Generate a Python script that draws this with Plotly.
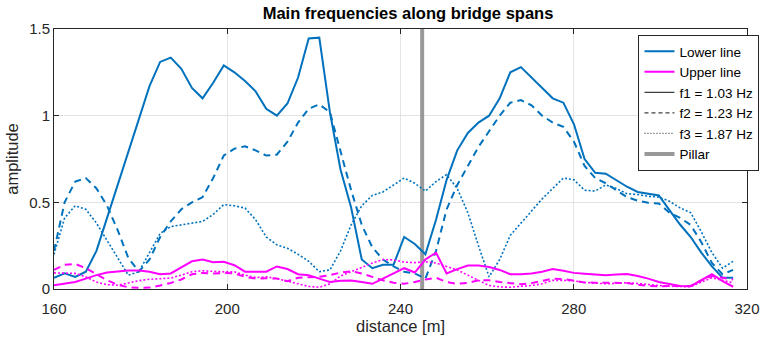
import plotly.graph_objects as go

# Measurement positions along the bridge [m]
distance = [160, 162.45, 164.9, 167.35, 169.8, 172.25, 174.7, 177.15, 179.6, 182.05,
            184.5, 186.95, 189.4, 191.85, 194.3, 196.75, 199.2, 201.65, 204.1, 206.55,
            209, 211.45, 213.9, 216.35, 218.8, 221.25, 223.7, 226.15, 228.6, 231.05,
            233.5, 235.95, 238.4, 240.85, 243.3, 245.75, 248.2, 250.65, 253.1, 255.55,
            258, 260.45, 262.9, 265.35, 267.8, 270.25, 272.7, 275.15, 277.6, 280.05,
            282.5, 284.95, 287.4, 289.85, 292.3, 294.75, 297.2, 299.65, 302.1, 304.55,
            307, 309.45, 311.9, 314.35, 316.8]

# Lower line amplitudes
lower_f1 = [0.065, 0.09, 0.07, 0.10, 0.22, 0.41, 0.60, 0.79, 0.97, 1.17,
            1.31, 1.335, 1.27, 1.16, 1.10, 1.19, 1.29, 1.25, 1.20, 1.14,
            1.04, 1.00, 1.07, 1.22, 1.445, 1.45, 1.02, 0.69, 0.47, 0.17,
            0.12, 0.14, 0.14, 0.30, 0.26, 0.20, 0.40, 0.63, 0.80, 0.90,
            0.96, 1.00, 1.10, 1.25, 1.28, 1.22, 1.16, 1.10, 1.075, 0.95,
            0.75, 0.67, 0.665, 0.63, 0.59, 0.56, 0.548, 0.54, 0.455, 0.372,
            0.30, 0.21, 0.13, 0.065, 0.065]
lower_f2 = [0.22, 0.50, 0.62, 0.64, 0.58, 0.48, 0.34, 0.18, 0.10, 0.17,
            0.30, 0.39, 0.46, 0.50, 0.53, 0.64, 0.77, 0.81, 0.823, 0.80,
            0.77, 0.775, 0.85, 0.96, 1.04, 1.065, 1.02, 0.80, 0.57, 0.37,
            0.24, 0.17, 0.13, 0.10, 0.09, 0.06, 0.22, 0.46, 0.60, 0.71,
            0.82, 0.91, 1.00, 1.075, 1.09, 1.06, 1.00, 0.96, 0.935, 0.85,
            0.71, 0.64, 0.61, 0.57, 0.53, 0.51, 0.497, 0.493, 0.44, 0.41,
            0.37, 0.27, 0.15, 0.085, 0.11]
lower_f3 = [0.20, 0.41, 0.48, 0.46, 0.38, 0.28, 0.18, 0.08, 0.10, 0.21,
            0.32, 0.36, 0.37, 0.38, 0.39, 0.43, 0.487, 0.48, 0.467, 0.40,
            0.30, 0.255, 0.235, 0.20, 0.16, 0.10, 0.11, 0.22, 0.37, 0.48,
            0.54, 0.56, 0.60, 0.64, 0.61, 0.565, 0.62, 0.66, 0.58, 0.44,
            0.25, 0.07, 0.17, 0.31, 0.38, 0.45, 0.52, 0.58, 0.64, 0.63,
            0.57, 0.565, 0.60, 0.58, 0.55, 0.545, 0.535, 0.53, 0.506, 0.468,
            0.44, 0.33, 0.21, 0.12, 0.16]

# Upper line amplitudes
upper_f1 = [0.022, 0.03, 0.04, 0.06, 0.08, 0.095, 0.10, 0.107, 0.107, 0.10,
            0.085, 0.09, 0.125, 0.16, 0.17, 0.155, 0.157, 0.137, 0.10, 0.10,
            0.10, 0.13, 0.115, 0.085, 0.08, 0.06, 0.04, 0.047, 0.049, 0.04,
            0.03, 0.06, 0.09, 0.12, 0.095, 0.17, 0.21, 0.09, 0.115, 0.135,
            0.135, 0.127, 0.11, 0.085, 0.085, 0.09, 0.10, 0.115, 0.105, 0.093,
            0.088, 0.084, 0.08, 0.083, 0.086, 0.075, 0.06, 0.04, 0.028, 0.018,
            0.016, 0.05, 0.085, 0.045, 0.013]
upper_f2 = [0.11, 0.14, 0.145, 0.12, 0.085, 0.05, 0.025, 0.01, 0.007, 0.008,
            0.02, 0.035, 0.055, 0.085, 0.093, 0.09, 0.092, 0.09, 0.07, 0.06,
            0.062, 0.06, 0.045, 0.065, 0.068, 0.07, 0.08, 0.095, 0.102, 0.09,
            0.07, 0.05, 0.036, 0.03, 0.04, 0.055, 0.065, 0.04, 0.03, 0.035,
            0.05, 0.05, 0.04, 0.033, 0.028, 0.034, 0.045, 0.06, 0.058, 0.05,
            0.038, 0.036, 0.036, 0.036, 0.035, 0.025, 0.018, 0.016, 0.016, 0.016,
            0.018, 0.05, 0.075, 0.065, 0.055]
upper_f3 = [0.093, 0.093, 0.09, 0.07, 0.04, 0.025, 0.022, 0.035, 0.048, 0.056,
            0.06, 0.063, 0.08, 0.10, 0.105, 0.10, 0.099, 0.099, 0.08, 0.066,
            0.07, 0.06, 0.045, 0.03, 0.015, 0.01, 0.03, 0.075, 0.10, 0.125,
            0.15, 0.17, 0.168, 0.155, 0.152, 0.157, 0.15, 0.13, 0.11, 0.08,
            0.05, 0.02, 0.012, 0.01, 0.016, 0.02, 0.03, 0.05, 0.05, 0.047,
            0.038, 0.033, 0.03, 0.033, 0.036, 0.032, 0.025, 0.02, 0.016, 0.013,
            0.013, 0.04, 0.065, 0.05, 0.036]

pillar_pos = 245
x_ticks = [160, 200, 240, 280, 320]
y_ticks = [0, 0.5, 1, 1.5]
y_labels = ["0", "0.5", "1", "1.5"]

BLUE = "#0072BD"
MAGENTA = "#FF00FF"
GRAY = "#999999"
DARK = "#262626"
FONT = "Liberation Sans, Arial, sans-serif"

styles = [("solid", 2.0), ("7px,5px", 2.0), ("2px,2px", 1.6)]

fig = go.Figure()

# Pillar marker
fig.add_trace(go.Scatter(x=[pillar_pos, pillar_pos], y=[0, 1.5], mode="lines",
                         line=dict(color=GRAY, width=4), showlegend=False,
                         hoverinfo="skip"))

for series, color in [((lower_f1, lower_f2, lower_f3), BLUE),
                      ((upper_f1, upper_f2, upper_f3), MAGENTA)]:
    for vals, (dash, w) in zip(series, styles):
        fig.add_trace(go.Scatter(x=distance, y=vals, mode="lines",
                                 line=dict(color=color, width=w, dash=dash),
                                 showlegend=False))

# Legend entries
legend_items = [
    ("Lower line", BLUE, "solid", 2),
    ("Upper line", MAGENTA, "solid", 2),
    ("f1 = 1.03 Hz", "#404040", "solid", 1.2),
    ("f2 = 1.23 Hz", "#404040", "4px,3px", 1.2),
    ("f3 = 1.87 Hz", "#404040", "1px,2px", 1.2),
    ("Pillar", GRAY, "solid", 4),
]
for name, color, dash, w in legend_items:
    fig.add_trace(go.Scatter(x=[None], y=[None], mode="lines", name=name,
                             line=dict(color=color, width=w, dash=dash)))

axis_common = dict(showline=True, linecolor=DARK, linewidth=1, mirror="ticks",
                   ticks="inside", ticklen=5, tickcolor=DARK,
                   showgrid=True, gridcolor="#E3E3E3", gridwidth=1,
                   zeroline=False, automargin=False,
                   tickfont=dict(family=FONT, size=15, color=DARK))

fig.update_xaxes(range=[160, 320], tickvals=x_ticks, ticklabelstandoff=6,
                 title=dict(text="distance [m]", font=dict(family=FONT, size=16.5, color=DARK),
                            standoff=4),
                 **axis_common)
fig.update_yaxes(range=[0, 1.5], tickvals=y_ticks, ticktext=y_labels,
                 title=dict(text="amplitude", font=dict(family=FONT, size=16.5, color=DARK),
                            standoff=6),
                 **axis_common)

fig.update_layout(
    width=771, height=339,
    margin=dict(l=54, r=13, t=29, b=50),
    paper_bgcolor="white", plot_bgcolor="white",
    title=dict(text="<b>Main frequencies along bridge spans</b>",
               font=dict(family=FONT, size=16.5, color="#000000"),
               x=408 / 771, xanchor="center",
               y=1 - 13 / 339, yanchor="middle"),
    legend=dict(x=1.018, y=0.977, xanchor="right", yanchor="top",
                bgcolor="white", bordercolor=DARK, borderwidth=1,
                font=dict(family=FONT, size=13.5, color="#000000"),
                itemwidth=30, tracegroupgap=0),
    showlegend=True,
)

fig.write_html("out.html")
